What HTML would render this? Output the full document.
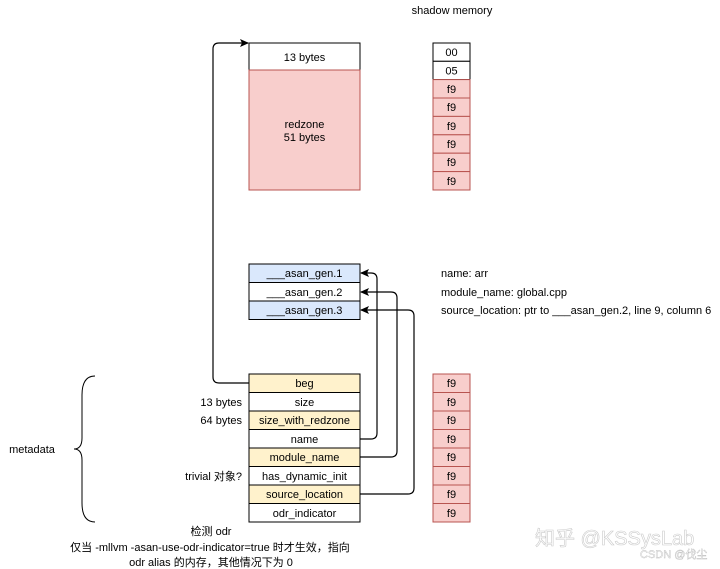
<!DOCTYPE html>
<html><head><meta charset="utf-8"><style>
html,body{margin:0;padding:0;background:#fff;}
svg{display:block;font-family:"Liberation Sans","Noto Sans CJK SC",sans-serif;}
</style></head><body>
<svg width="720" height="569" viewBox="0 0 720 569" xmlns="http://www.w3.org/2000/svg">
<defs><marker id="a" markerWidth="10" markerHeight="10" refX="8" refY="5" orient="auto" markerUnits="userSpaceOnUse"><path d="M0,1 L9,5 L0,9 L2,5 Z" fill="#000"/></marker></defs>
<g font-size="11" text-anchor="middle" fill="#000">
<text x="452" y="14">shadow memory</text>
<rect x="249" y="43" width="111" height="27" fill="#fff" stroke="#000"/>
<text x="304.5" y="61">13 bytes</text>
<rect x="249" y="70" width="111" height="120" fill="#f8cecc" stroke="#b85450"/>
<text x="304.5" y="128">redzone</text><text x="304.5" y="141">51 bytes</text>
<rect x="433" y="43" width="37" height="18.3" fill="#fff" stroke="#000"/><text x="451.5" y="56">00</text>
<rect x="433" y="61.3" width="37" height="18.3" fill="#fff" stroke="#000"/><text x="451.5" y="74.5">05</text>
<g fill="#f8cecc" stroke="#b85450">
<rect x="433" y="79.6" width="37" height="18.4"/><rect x="433" y="98" width="37" height="18.4"/><rect x="433" y="116.4" width="37" height="18.4"/><rect x="433" y="134.8" width="37" height="18.4"/><rect x="433" y="153.2" width="37" height="18.4"/><rect x="433" y="171.6" width="37" height="18.4"/>
</g>
<text x="451.5" y="93">f9</text><text x="451.5" y="111">f9</text><text x="451.5" y="130">f9</text><text x="451.5" y="148">f9</text><text x="451.5" y="166">f9</text><text x="451.5" y="185">f9</text>
<rect x="249" y="264" width="111" height="18.5" fill="#dae8fc" stroke="#000"/><text x="304.5" y="277">___asan_gen.1</text>
<rect x="249" y="282.5" width="111" height="18.5" fill="#fff" stroke="#000"/><text x="304.5" y="296">___asan_gen.2</text>
<rect x="249" y="301" width="111" height="18.5" fill="#dae8fc" stroke="#000"/><text x="304.5" y="314">___asan_gen.3</text>
<g text-anchor="start">
<text x="441" y="277">name: arr</text>
<text x="441" y="296">module_name: global.cpp</text>
<text x="441" y="314">source_location: ptr to ___asan_gen.2, line 9, column 6</text>
</g>
<rect x="249" y="374" width="111" height="18.5" fill="#fff2cc" stroke="#000"/><text x="304.5" y="387">beg</text>
<rect x="249" y="392.5" width="111" height="18.5" fill="#fff" stroke="#000"/><text x="304.5" y="406">size</text>
<rect x="249" y="411" width="111" height="18.5" fill="#fff2cc" stroke="#000"/><text x="304.5" y="424">size_with_redzone</text>
<rect x="249" y="429.5" width="111" height="18.5" fill="#fff" stroke="#000"/><text x="304.5" y="443">name</text>
<rect x="249" y="448" width="111" height="18.5" fill="#fff2cc" stroke="#000"/><text x="304.5" y="461">module_name</text>
<rect x="249" y="466.5" width="111" height="18.5" fill="#fff" stroke="#000"/><text x="304.5" y="480">has_dynamic_init</text>
<rect x="249" y="485" width="111" height="18.5" fill="#fff2cc" stroke="#000"/><text x="304.5" y="498">source_location</text>
<rect x="249" y="503.5" width="111" height="18.5" fill="#fff" stroke="#000"/><text x="304.5" y="517">odr_indicator</text>
<g fill="#f8cecc" stroke="#b85450">
<rect x="433" y="374" width="37" height="18.5"/><rect x="433" y="392.5" width="37" height="18.5"/><rect x="433" y="411" width="37" height="18.5"/><rect x="433" y="429.5" width="37" height="18.5"/><rect x="433" y="448" width="37" height="18.5"/><rect x="433" y="466.5" width="37" height="18.5"/><rect x="433" y="485" width="37" height="18.5"/><rect x="433" y="503.5" width="37" height="18.5"/>
</g>
<text x="451.5" y="387">f9</text><text x="451.5" y="406">f9</text><text x="451.5" y="424">f9</text><text x="451.5" y="443">f9</text><text x="451.5" y="461">f9</text><text x="451.5" y="480">f9</text><text x="451.5" y="498">f9</text><text x="451.5" y="517">f9</text>
<g text-anchor="end">
<text x="242" y="406">13 bytes</text>
<text x="242" y="424">64 bytes</text>
<text x="242" y="480">trivial 对象?</text>
</g>
<text x="32" y="453">metadata</text>
<text x="211" y="535">检测 odr</text>
<text x="210" y="551">仅当 -mllvm -asan-use-odr-indicator=true 时才生效，指向</text>
<text x="211" y="566">odr alias 的内存，其他情况下为 0</text>
</g>
<g fill="none" stroke="#000" stroke-width="1.2">
<path d="M249,383 L219,383 Q213,383 213,377 L213,49 Q213,43 219,43 L248,43" marker-end="url(#a)"/>
<path d="M360,439 L371,439 Q377,439 377,433 L377,279 Q377,273 371,273 L361,273" marker-end="url(#a)"/>
<path d="M360,457 L391,457 Q397,457 397,451 L397,298 Q397,292 391,292 L361,292" marker-end="url(#a)"/>
<path d="M360,494 L408,494 Q414,494 414,488 L414,316 Q414,310 408,310 L361,310" marker-end="url(#a)"/>
<path d="M95,376 Q82,376 82,395 L82,438 Q82,449 74,449 Q82,449 82,460 L82,503 Q82,522 95,522" stroke-width="1"/>
</g>
<text x="535" y="545" font-size="20" fill="#fff" stroke="#ccc" stroke-width="0.6">知乎 @KSSysLab</text>
<text x="640" y="558" font-size="11" fill="#fff" stroke="#bbb" stroke-width="0.4">CSDN @伐尘</text>
</svg>
</body></html>
